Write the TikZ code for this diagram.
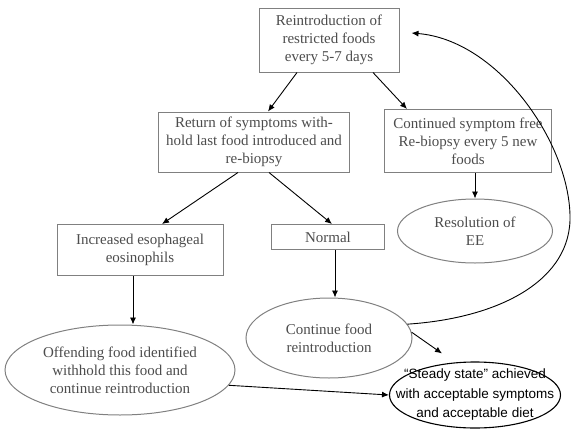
\documentclass[tikz,border=0pt]{standalone}
\usepackage{fontspec}
\setmainfont{Liberation Serif}
\newfontfamily\arialfont{Liberation Sans}
\usetikzlibrary{shapes.geometric,arrows.meta}

\tikzset{
    grybox/.style={draw=black!50, line width=1pt, text=black!70, align=center, inner sep=0pt,
        font=\fontsize{15}{18}\selectfont},
    gryoval/.style={ellipse, draw=black!50, line width=1pt, inner sep=0pt},
    grytext/.style={text=black!70, align=center, inner sep=0pt, font=\fontsize{15}{18}\selectfont},
    blkoval/.style={ellipse, draw=black, line width=1.1pt, inner sep=0pt},
    blktext/.style={align=center, inner sep=0pt, font=\arialfont\fontsize{13.5}{19.5}\selectfont},
    flowarrow/.style={-{Latex[length=7pt,width=6pt]}, line width=0.9pt}
}

\begin{document}
\begin{tikzpicture}[x=1pt,y=-1pt]
    \useasboundingbox (0,0) rectangle (571,429);
    % boxes
    \node[grybox, minimum width=140pt, minimum height=64pt] (reintro) at (329,40)
        {Reintroduction of\\restricted foods\\every 5-7 days};
    \node[grybox, minimum width=191pt, minimum height=60pt] (symptoms) at (254,142)
        {Return of symptoms with-\\hold last food introduced and\\re-biopsy};
    \node[grybox, minimum width=167pt, minimum height=63pt] (symfree) at (468,141)
        {Continued symptom free\\Re-biopsy every 5 new\\foods};
    \node[grybox, minimum width=166pt, minimum height=51pt] (eosin) at (140,250)
        {Increased esophageal\\eosinophils};
    \node[grybox, minimum width=113pt, minimum height=25pt] (normal) at (328,237) {Normal};
    % ovals
    \node[gryoval, minimum width=155pt, minimum height=64pt] (resolution) at (475,231) {};
    \node[grytext] (resolutiontext) at (resolution) {Resolution of\\EE};
    \node[gryoval, minimum width=166pt, minimum height=80pt] (contfood) at (329,338) {};
    \node[grytext] (contfoodtext) at (contfood) {Continue food\\reintroduction};
    \node[gryoval, minimum width=230pt, minimum height=90pt] (offending) at (120,370) {};
    \node[grytext] (offendingtext) at (offending)
        {Offending food identified\\withhold this food and\\continue reintroduction};
    \node[blkoval, minimum width=171pt, minimum height=66pt] (steady) at (475,395) {};
    \node[blktext] (steadytext) at (steady)
        {“Steady state” achieved\\with acceptable symptoms\\and acceptable diet};
    % arrows
    \draw[flowarrow] ([xshift=-32pt]reintro.south) -- ([xshift=14pt]symptoms.north);
    \draw[flowarrow] ([xshift=44pt]reintro.south) -- ([xshift=-61pt]symfree.north);
    \draw[flowarrow] ([xshift=-16pt]symptoms.south) -- ([xshift=22pt]eosin.north);
    \draw[flowarrow] ([xshift=15pt]symptoms.south) -- ([xshift=4pt]normal.north);
    \draw[flowarrow] (symfree.south -| resolution.north) -- (resolution.north);
    \draw[flowarrow] ([xshift=-7pt]eosin.south) -- ([xshift=-7pt]eosin.south |- offending.north);
    \draw[flowarrow] ([xshift=7pt]normal.south) -- ([xshift=7pt]normal.south |- contfood.north);
    \draw[flowarrow] (contfood.4) -- ([xshift=-33pt,yshift=8pt]steady.north);
    \draw[flowarrow] (offending.-8) -- (steady.west);
    \draw[flowarrow] (contfood.10) .. controls (500,318) and (572,280) .. (570,215)
        .. controls (568,140) and (497,40) .. ([xshift=12pt,yshift=7pt]reintro.east);
\end{tikzpicture}
\end{document}
